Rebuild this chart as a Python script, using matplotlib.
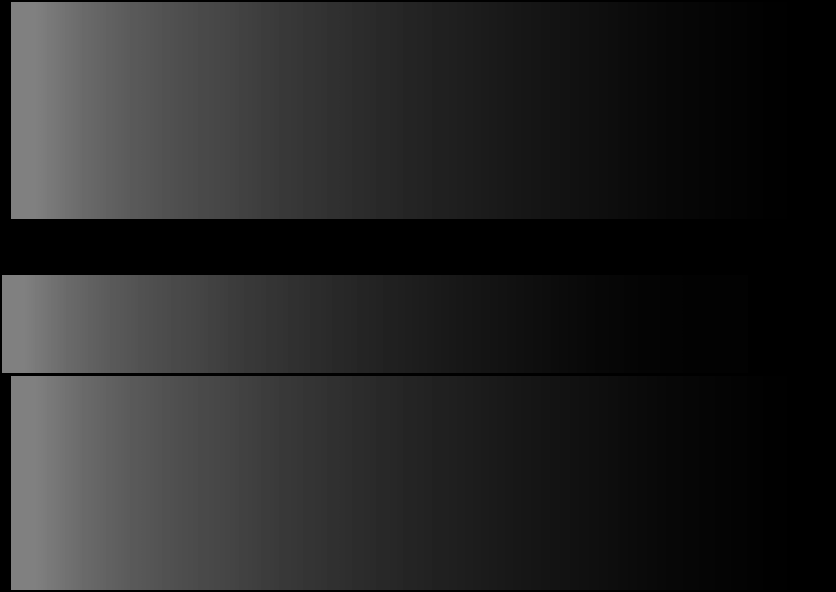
import numpy as np
import matplotlib.pyplot as plt

# grey level (0-255) sampled evenly from left to right edge of each band
top_levels = [128, 106, 90, 78, 69, 58, 50, 42, 35, 29, 23, 18, 13, 8, 5, 2, 0]
mid_levels = [128, 106, 90, 78, 69, 58, 50, 42, 35, 29, 23, 18, 13, 8, 5, 3, 2]
bottom_levels = [128, 106, 90, 78, 69, 58, 50, 42, 35, 29, 23, 18, 13, 8, 5, 2, 0]

W, H = 836, 592
fig = plt.figure(figsize=(W / 100, H / 100), dpi=100, facecolor='black')


def band(levels, x0, x1, y0, y1):
    # pixel box -> figure fraction
    ax = fig.add_axes([x0 / W, 1 - y1 / H, (x1 - x0) / W, (y1 - y0) / H])
    ax.imshow(np.array(levels, dtype=float)[None, :], cmap='gray', vmin=0, vmax=255,
              aspect='auto', interpolation='bilinear')
    ax.set_axis_off()
    return ax


band(top_levels, 11, 836, 2, 219)
band(mid_levels, 2, 748, 275, 373)
band(bottom_levels, 11, 836, 376, 590)

fig.savefig('out.png', dpi=100, facecolor='black')
